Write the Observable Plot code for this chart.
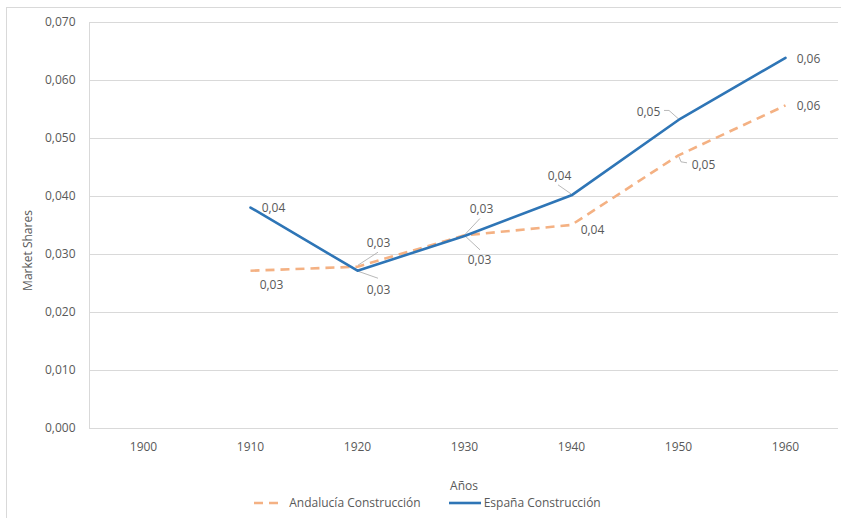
<!DOCTYPE html>
<html>
<head>
<meta charset="utf-8">
<script src="https://cdn.jsdelivr.net/npm/d3@7"></script>
<script src="https://cdn.jsdelivr.net/npm/@observablehq/plot@0.6"></script>
<style>
html, body { margin: 0; padding: 0; background: #fff; overflow: hidden; width: 841px; height: 518px; }
body { font-family: "Open Sans", sans-serif; position: relative; }
#chart { position: absolute; left: 0; top: 0; }
#border { position: absolute; left: 6px; top: 7px; width: 900px; height: 600px; border: 1px solid #d9d9d9; pointer-events: none; z-index: 5; }
#legend { position: absolute; left: 7px; top: 495px; width: 841px; display: flex; justify-content: center; align-items: center; font-size: 12px; line-height: 16px; color: #595959; }
#legend .item { display: flex; align-items: center; }
#legend svg { display: block; }
</style>
</head>
<body>
<div id="chart"></div>
<div id="legend"></div>
<div id="border"></div>
<script>
// ---- data ----
const years = ["1900", "1910", "1920", "1930", "1940", "1950", "1960"];
const andalucia = [null, 0.0272, 0.0279, 0.0333, 0.0351, 0.0471, 0.0557];
const espana = [null, 0.0381, 0.0272, 0.0332, 0.0402, 0.0532, 0.0639];
const yTicks = [0, 0.01, 0.02, 0.03, 0.04, 0.05, 0.06, 0.07];
const seriesNames = ["Andalucía Construcción", "España Construcción"];

// label placement (pixel offsets of label centre from its point)
const andLabelOffsets = [null, [21, 14], [21, -24], [15, 25], [21, 5], [25, 10], [23, 1]];
const espLabelOffsets = [null, [23, 1], [21, 19], [17, -27], [-12, -19], [-30, -8], [23, 1]];
// leader lines (pixel polylines relative to point)
const andLeaders = [null, null, [[1, -1], [21, -14]], [[1, 1], [16, 15]], null, [[1, 2], [3, 7], [9, 8]], null];
const espLeaders = [null, null, [[1, 1], [21, 8]], [[1, -1], [16, -17]], [[0, -1], [-13, -10]], [[0, -1], [-9, -9], [-14, -9]], null];

const colors = {and: "#F4B183", esp: "#2E75B6"};
const textColor = "#595959";
const gridColor = "#d9d9d9";

const fmtAxis = v => d3.format(".3f")(v).replace(".", ",");
const fmtLabel = v => d3.format(".2f")(v).replace(".", ",");

function rowsOf(values, series, offsets, leaders) {
  return years.map((y, i) => ({year: y, value: values[i], series, off: offsets[i], leader: leaders[i]}))
    .filter(d => d.value != null);
}
const andRows = rowsOf(andalucia, seriesNames[0], andLabelOffsets, andLeaders);
const espRows = rowsOf(espana, seriesNames[1], espLabelOffsets, espLeaders);
const allRows = andRows.concat(espRows);

const labelMarks = allRows.map(d => Plot.text([d], {
  x: "year", y: "value", text: r => fmtLabel(r.value),
  dx: d.off[0], dy: d.off[1], fill: textColor, fontSize: 12
}));

function leaderMark(index, scales, values, dimensions) {
  const g = d3.create("svg:g");
  for (const d of allRows) {
    if (!d.leader) continue;
    const px = scales.x(d.year), py = scales.y(d.value);
    g.append("path")
      .attr("d", "M" + d.leader.map(p => (px + p[0]) + "," + (py + p[1])).join("L"))
      .attr("fill", "none").attr("stroke", "#a6a6a6").attr("stroke-width", 0.8);
  }
  // left edge of the plot area
  g.append("line")
    .attr("x1", dimensions.marginLeft + 0.5).attr("x2", dimensions.marginLeft + 0.5)
    .attr("y1", dimensions.marginTop).attr("y2", dimensions.height - dimensions.marginBottom)
    .attr("stroke", gridColor);
  return g.node();
}

const chart = Plot.plot({
  width: 841,
  height: 495,
  marginLeft: 89,
  marginRight: 3,
  marginTop: 22,
  marginBottom: 67,
  style: {fontFamily: "Open Sans, sans-serif", fontSize: "12px", color: textColor, background: "transparent"},
  x: {type: "point", domain: years, padding: 0.5, tickSize: 0, tickPadding: 14, label: null},
  y: {domain: [0, 0.07], ticks: yTicks, tickFormat: fmtAxis, tickSize: 0, tickPadding: 14, label: null},
  marks: [
    Plot.ruleY(yTicks, {stroke: gridColor, strokeWidth: 1}),
    leaderMark,
    Plot.line(andRows, {x: "year", y: "value", stroke: colors.and, strokeWidth: 2.6, strokeDasharray: "9,6", strokeLinecap: "butt"}),
    Plot.line(espRows, {x: "year", y: "value", stroke: colors.esp, strokeWidth: 2.6}),
    ...labelMarks,
    Plot.text(["Años"], {frameAnchor: "bottom", dy: 61, fill: textColor, fontSize: 12}),
    Plot.text(["Market Shares"], {frameAnchor: "left", textAnchor: "middle", dx: -61, dy: 25, rotate: -90, fill: textColor, fontSize: 12})
  ]
});
document.getElementById("chart").appendChild(chart);

// legend
const legend = d3.select("#legend");
const items = [
  {name: seriesNames[0], color: colors.and, dash: "9,6", w: 29, gap: 6},
  {name: seriesNames[1], color: colors.esp, dash: null, w: 32, gap: 3}
];
items.forEach((it, i) => {
  const item = legend.append("div").attr("class", "item").style("margin-left", i ? "28px" : "0");
  const s = item.append("svg").attr("width", it.w).attr("height", 10);
  s.append("line").attr("x1", 0).attr("x2", it.w).attr("y1", 5).attr("y2", 5)
    .attr("stroke", it.color).attr("stroke-width", 2.6).attr("stroke-dasharray", it.dash);
  item.append("span").style("margin-left", it.gap + "px").text(it.name);
});
</script>
</body>
</html>
